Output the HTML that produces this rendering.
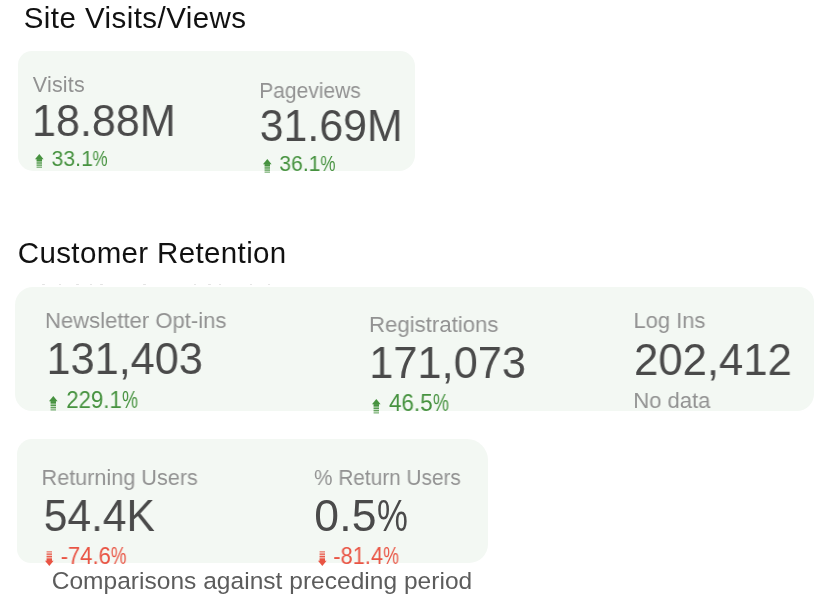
<!DOCTYPE html>
<html lang="en">
<head>
<meta charset="utf-8">
<title>Site Visits and Customer Retention</title>
<style>
html,body{margin:0;padding:0;background:#fff;}
body{width:821px;height:614px;position:relative;overflow:hidden;font-family:"Liberation Sans", sans-serif;}
.card{position:absolute;background:#f3f8f3;margin:0;}
.metric{position:static;}
.t{position:absolute;white-space:nowrap;line-height:1;margin:0;padding:0;font-weight:400;will-change:transform;transform-origin:0 0;}
.ttl{color:#111111;}
.lbl{color:#929292;}
.num{color:#4a4a4a;}
.up{color:#46923f;fill:#46923f;}
.down{color:#e95444;fill:#e95444;}
.ft{color:#5c5c5c;}
.ar{position:absolute;display:block;overflow:visible;}
.dots{position:absolute;top:283.8px;left:0;height:1.2px;}
.dots i{position:absolute;top:0;width:2.6px;height:1.2px;background:#e3e3e3;border-radius:1px;}
.pc{display:inline-block;transform-origin:0 50%;letter-spacing:0;}
</style>
</head>
<body>
<h2 class="t ttl" style="left:23.00px;top:3.00px;font-size:29.5px;padding-left:0.66px;letter-spacing:0.442px">Site Visits/Views</h2>
<section class="card" style="left:18.3px;top:51.1px;width:396.6px;height:119.7px;border-radius:14px 15px 16px 15px">
  <div class="metric">
    <div class="t lbl" style="left:13.70px;top:23.90px;font-size:21.5px;padding-left:0.81px;letter-spacing:0.199px">Visits</div>
    <div class="t num" style="left:13.70px;top:47.90px;font-size:44.5px;transform:scaleX(0.9690)">18.88M</div>
    <svg class="ar up" style="left:16.60px;top:102.50px" width="8.60" height="14.00" viewBox="0 0 8.60 14.00"><g><path d="M4.30 0L8.60 5.30H0Z"/><rect x="1.60" y="5.30" width="5.40" height="8.40" opacity=".18"/><rect x="1.60" y="5.10" width="5.40" height="2.38" opacity="1.00"/><rect x="1.60" y="8.34" width="5.40" height="1.30" opacity="0.95"/><rect x="1.60" y="10.52" width="5.40" height="1.30" opacity="0.80"/><rect x="1.60" y="12.70" width="5.40" height="1.30" opacity="0.55"/></g></svg>
    <div class="t pct up" style="left:32.70px;top:96.90px;font-size:22px;padding-left:0.61px;transform:scaleX(0.9649)">33.1<span class="pc" style="transform:scaleX(0.80)">%</span></div>
  </div>
  <div class="metric">
    <div class="t lbl" style="left:240.70px;top:29.90px;font-size:21.5px;padding-left:0.29px;transform:scaleX(0.9760)">Pageviews</div>
    <div class="t num" style="left:240.70px;top:52.90px;font-size:44.5px;padding-left:0.80px;transform:scaleX(0.9617)">31.69M</div>
    <svg class="ar up" style="left:244.80px;top:108.20px" width="8.60" height="13.90" viewBox="0 0 8.60 13.90"><g><path d="M4.30 0L8.60 5.30H0Z"/><rect x="1.60" y="5.30" width="5.40" height="8.30" opacity=".18"/><rect x="1.60" y="5.10" width="5.40" height="2.35" opacity="1.00"/><rect x="1.60" y="8.31" width="5.40" height="1.29" opacity="0.95"/><rect x="1.60" y="10.46" width="5.40" height="1.29" opacity="0.80"/><rect x="1.60" y="12.61" width="5.40" height="1.29" opacity="0.55"/></g></svg>
    <div class="t pct up" style="left:260.70px;top:101.90px;font-size:22px;padding-left:0.20px;transform:scaleX(0.9631)">36.1<span class="pc" style="transform:scaleX(0.80)">%</span></div>
  </div>
</section>
<h2 class="t ttl" style="left:17.00px;top:238.00px;font-size:29.5px;padding-left:0.80px;letter-spacing:0.357px">Customer Retention</h2>
<div class="dots"><i style="left:42.1px"></i><i style="left:58.9px"></i><i style="left:76.3px"></i><i style="left:89.9px"></i><i style="left:100.0px"></i><i style="left:143.4px"></i><i style="left:193.5px"></i><i style="left:208.3px"></i><i style="left:218.8px"></i><i style="left:249.5px"></i><i style="left:267.8px"></i></div>
<section class="card" style="left:14.9px;top:287.4px;width:799.0px;height:123.7px;border-radius:18px 15px 17px 17px">
  <div class="metric">
    <div class="t lbl" style="left:29.10px;top:22.60px;font-size:22.5px;padding-left:1.01px;transform:scaleX(0.9808)">Newsletter Opt-ins</div>
    <div class="t num" style="left:31.10px;top:49.60px;font-size:44.5px;padding-left:0.41px;transform:scaleX(0.9729)">131,403</div>
    <svg class="ar up" style="left:33.80px;top:108.60px" width="8.60" height="14.60" viewBox="0 0 8.60 14.60"><g><path d="M4.30 0L8.60 5.30H0Z"/><rect x="1.60" y="5.30" width="5.40" height="9.00" opacity=".18"/><rect x="1.60" y="5.10" width="5.40" height="2.53" opacity="1.00"/><rect x="1.60" y="8.56" width="5.40" height="1.40" opacity="0.95"/><rect x="1.60" y="10.88" width="5.40" height="1.40" opacity="0.80"/><rect x="1.60" y="13.21" width="5.40" height="1.40" opacity="0.55"/></g></svg>
    <div class="t pct up" style="left:51.10px;top:101.60px;font-size:23px;padding-left:0.19px;transform:scaleX(0.9667)">229.1<span class="pc" style="transform:scaleX(0.80)">%</span></div>
  </div>
  <div class="metric">
    <div class="t lbl" style="left:353.10px;top:26.60px;font-size:22.5px;padding-left:0.99px;transform:scaleX(0.9864)">Registrations</div>
    <div class="t num" style="left:354.10px;top:53.60px;font-size:44.5px;padding-left:0.31px;transform:scaleX(0.9736)">171,073</div>
    <svg class="ar up" style="left:357.50px;top:111.90px" width="8.60" height="14.60" viewBox="0 0 8.60 14.60"><g><path d="M4.30 0L8.60 5.30H0Z"/><rect x="1.60" y="5.30" width="5.40" height="9.00" opacity=".18"/><rect x="1.60" y="5.10" width="5.40" height="2.52" opacity="1.00"/><rect x="1.60" y="8.55" width="5.40" height="1.39" opacity="0.95"/><rect x="1.60" y="10.88" width="5.40" height="1.39" opacity="0.80"/><rect x="1.60" y="13.20" width="5.40" height="1.39" opacity="0.55"/></g></svg>
    <div class="t pct up" style="left:373.10px;top:104.60px;font-size:23px;padding-left:1.01px;transform:scaleX(0.9760)">46.5<span class="pc" style="transform:scaleX(0.80)">%</span></div>
  </div>
  <div class="metric">
    <div class="t lbl" style="left:618.10px;top:22.60px;font-size:22.5px;padding-left:0.51px;transform:scaleX(0.9754)">Log Ins</div>
    <div class="t num" style="left:619.10px;top:50.60px;font-size:44.5px;transform:scaleX(0.9822)">202,412</div>
    <div class="t lbl nodata" style="left:618.10px;top:102.60px;font-size:22.5px;padding-left:0.20px;transform:scaleX(0.9797)">No data</div>
  </div>
</section>
<section class="card" style="left:17.4px;top:439.2px;width:470.6px;height:123.7px;border-radius:15px 21px 19px 14px">
  <div class="metric">
    <div class="t lbl" style="left:23.60px;top:27.80px;font-size:22px;padding-left:0.54px;transform:scaleX(0.9830)">Returning Users</div>
    <div class="t num" style="left:25.60px;top:54.80px;font-size:44.5px;padding-left:0.73px;transform:scaleX(0.9569)">54.4K</div>
    <svg class="ar down" style="left:27.40px;top:112.10px" width="8.60" height="15.10" viewBox="0 0 8.60 15.10"><g transform="rotate(180 4.30 7.55)"><path d="M4.30 0L8.60 5.30H0Z"/><rect x="1.60" y="5.30" width="5.40" height="9.50" opacity=".18"/><rect x="1.60" y="5.10" width="5.40" height="2.65" opacity="1.00"/><rect x="1.60" y="8.73" width="5.40" height="1.47" opacity="0.95"/><rect x="1.60" y="11.18" width="5.40" height="1.47" opacity="0.80"/><rect x="1.60" y="13.63" width="5.40" height="1.47" opacity="0.55"/></g></svg>
    <div class="t pct down" style="left:42.60px;top:105.80px;font-size:23px;padding-left:0.65px;transform:scaleX(0.9582)">-74.6<span class="pc" style="transform:scaleX(0.80)">%</span></div>
  </div>
  <div class="metric">
    <div class="t lbl" style="left:296.60px;top:27.80px;font-size:22px;padding-left:0.06px;transform:scaleX(0.9454)">% Return Users</div>
    <div class="t num" style="left:296.60px;top:54.80px;font-size:44.5px;padding-left:0.26px;letter-spacing:0.184px">0.5<span class="pc" style="transform:scaleX(0.78)">%</span></div>
    <svg class="ar down" style="left:300.50px;top:112.10px" width="8.60" height="15.10" viewBox="0 0 8.60 15.10"><g transform="rotate(180 4.30 7.55)"><path d="M4.30 0L8.60 5.30H0Z"/><rect x="1.60" y="5.30" width="5.40" height="9.50" opacity=".18"/><rect x="1.60" y="5.10" width="5.40" height="2.65" opacity="1.00"/><rect x="1.60" y="8.73" width="5.40" height="1.47" opacity="0.95"/><rect x="1.60" y="11.18" width="5.40" height="1.47" opacity="0.80"/><rect x="1.60" y="13.63" width="5.40" height="1.47" opacity="0.55"/></g></svg>
    <div class="t pct down" style="left:315.60px;top:105.80px;font-size:23px;padding-left:0.35px;transform:scaleX(0.9492)">-81.4<span class="pc" style="transform:scaleX(0.80)">%</span></div>
  </div>
</section>
<p class="t ft" style="left:51.00px;top:569.00px;font-size:24.5px;padding-left:0.76px;letter-spacing:0.027px">Comparisons against preceding period</p>
</body>
</html>
